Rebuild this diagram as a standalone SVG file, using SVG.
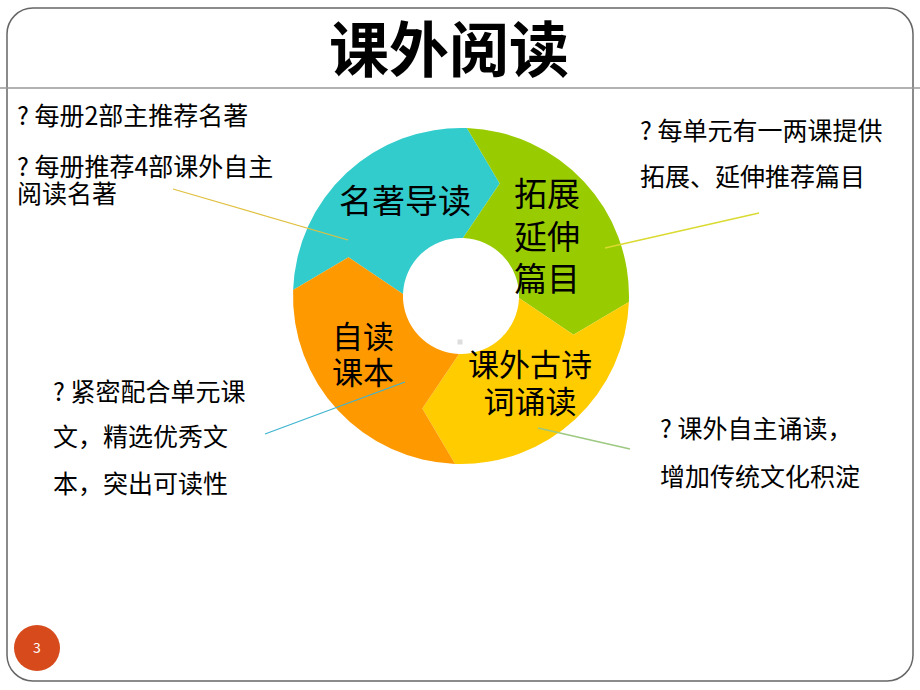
<svg xmlns="http://www.w3.org/2000/svg" width="920" height="690" viewBox="0 0 920 690">
<style>
text{font-family:"Noto Sans CJK SC","Liberation Sans",sans-serif;fill:#000}
.note{font-size:25px}
.seg{font-size:31px;text-anchor:middle}
.big{font-size:33px;text-anchor:middle}
.conn{fill:none;stroke-width:1.3}
</style>
<rect width="920" height="690" fill="#fff"/>
<g id="frame">
<rect x="7" y="8" width="906" height="673" rx="26" fill="none" stroke="#666" stroke-width="1.5"/>
<line x1="0" y1="88" x2="920" y2="88" stroke="#999" stroke-width="1.5"/>
</g>
<g id="title"><text x="449" y="72" font-size="60" font-weight="bold" text-anchor="middle">课外阅读</text></g>
<g id="seg-mingzhu">
<path d="M293.1,290.1 A168,168 0 0 1 466.9,128.1 L499.7,183.5 L463,238 A58,58 0 0 0 403,294 L348.5,257.3 Z" fill="#33CCCC"/>
<text class="big" x="405" y="213">名著导读</text>
</g>
<g id="seg-tuozhan">
<path d="M466.9,128.1 A168,168 0 0 1 628.9,301.9 L573.5,334.7 L519,298 A58,58 0 0 0 463,238 L499.7,183.5 Z" fill="#99CC00"/>
<text class="big" x="547" y="206">拓展</text>
<text class="big" x="547" y="249">延伸</text>
<text class="big" x="547" y="291">篇目</text>
</g>
<g id="seg-gushi">
<path d="M628.9,301.9 A168,168 0 0 1 455.1,463.9 L422.3,408.5 L459,354 A58,58 0 0 0 519,298 L573.5,334.7 Z" fill="#FFCC00"/>
<text class="seg" x="530" y="376">课外古诗</text>
<text class="seg" x="530" y="413">词诵读</text>
</g>
<g id="seg-keben">
<path d="M455.1,463.9 A168,168 0 0 1 293.1,290.1 L348.5,257.3 L403,294 A58,58 0 0 0 459,354 L422.3,408.5 Z" fill="#FF9900"/>
<text class="seg" x="363" y="348">自读</text>
<text class="seg" x="363" y="384">课本</text>
</g>
<rect x="457.5" y="339.5" width="5" height="5" fill="#ddd"/>
<g id="connectors">
<line class="conn" x1="173" y1="189" x2="348" y2="240" stroke="#E0C040"/>
<line class="conn" x1="759" y1="213" x2="605" y2="248" stroke="#DADA30"/>
<line class="conn" x1="265" y1="434" x2="405" y2="382" stroke="#40B4D0"/>
<line class="conn" x1="538" y1="428" x2="630" y2="449" stroke="#9CC880"/>
</g>
<g id="note-mingzhu">
<text class="note" x="17" y="125">? 每册2部主推荐名著</text>
<text class="note" x="17" y="176">? 每册推荐4部课外自主</text>
<text class="note" x="17" y="203">阅读名著</text>
</g>
<g id="note-tuozhan">
<text class="note" x="640" y="140">? 每单元有一两课提供</text>
<text class="note" x="640" y="186">拓展、延伸推荐篇目</text>
</g>
<g id="note-keben">
<text class="note" x="53" y="401">? 紧密配合单元课</text>
<text class="note" x="53" y="446">文，精选优秀文</text>
<text class="note" x="53" y="493">本，突出可读性</text>
</g>
<g id="note-gushi">
<text class="note" x="660" y="438">? 课外自主诵读，</text>
<text class="note" x="660" y="486">增加传统文化积淀</text>
</g>
<g id="page-number">
<circle cx="37" cy="648" r="23" fill="#D64A1C"/>
<text x="37" y="653" font-size="14" text-anchor="middle" style="fill:#fff">3</text>
</g>
</svg>
